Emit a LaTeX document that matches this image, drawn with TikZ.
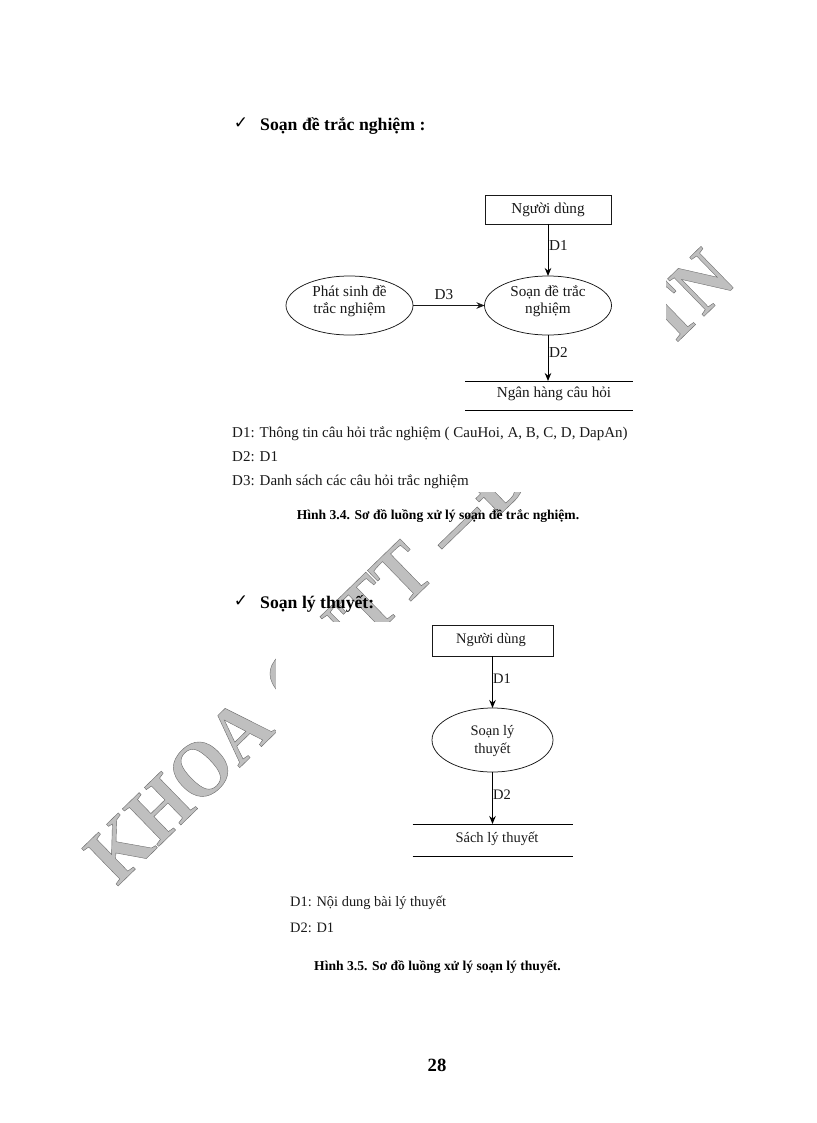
\documentclass[tikz,border=0pt]{standalone}
\usepackage{fontspec}
\setmainfont{Liberation Serif}
\newfontfamily\symfont{DejaVu Sans}
\usetikzlibrary{arrows.meta,shapes.geometric}
\definecolor{wmfill}{gray}{0.75}
\definecolor{ink}{gray}{0.1}
\newcommand{\wmtext}[2]{\scalebox{#1}[1.05]{\color{wmfill}\special{pdf:code 2 Tr 0.4 w 0.42 G}#2\special{pdf:code 0 Tr 0 G}}}
\tikzset{
 shapeline/.style={draw=ink,line width=0.75pt,outer sep=0pt,inner sep=0pt},
 boxn/.style={shapeline,rectangle},
 elln/.style={shapeline,ellipse},
 storen/.style={rectangle,inner sep=0pt,outer sep=0pt},
 flow/.style={draw=black,line width=1pt,-{Stealth[length=8pt,width=6.5pt]}},
 thinflow/.style={draw=ink,line width=0.75pt,-{Stealth[length=8pt,width=6.5pt]}},
 storeline/.style={draw=black,line width=0.9pt},
 dtext/.style={font=\fontsize{15.2}{16}\selectfont,text=ink,inner sep=0pt,align=center},
 dtextb/.style={font=\fontsize{14.5}{16}\selectfont,text=ink,inner sep=0pt,align=center},
 listtext/.style={font=\fontsize{15}{16}\selectfont,text=ink,inner sep=0pt,anchor=base west},
 listtextb/.style={font=\fontsize{14.4}{16}\selectfont,text=ink,inner sep=0pt,anchor=base west},
 head/.style={font=\fontsize{17.7}{22}\selectfont\bfseries,inner sep=0pt,anchor=base west},
 capt/.style={font=\fontsize{13.6}{14}\selectfont\bfseries,inner sep=0pt,anchor=base},
 tick/.style={font=\fontsize{17}{18}\selectfont\symfont,inner sep=0pt},
 mask/.style={fill=white,draw=none},
 wm/.style={inner sep=0pt,anchor=base west,rotate=44.2,font=\fontsize{76}{80}\selectfont\bfseries},
}
\begin{document}
\begin{tikzpicture}[x=1pt,y=-1pt]
\useasboundingbox (0,0) rectangle (816,1123);
\fill[white] (0,0) rectangle (816,1123);
% watermark
\node[wm] (wm1) at (117,887) {\wmtext{.96}{KHOA}};
\node[wm] (wm2) at (294.8,714.1) {\wmtext{.94}{CNTT}};
\node[wm] (wm3) at (453.3,560.1) {\wmtext{1.4}{–}};
\node[wm] (wm4) at (494.1,520.4) {\wmtext{1}{Đ}};
\node[wm] (wm5) at (670.5,348.9) {\wmtext{.89}{TN}};
\fill[mask] (220,150) rectangle (666,492);
\fill[mask] (276,622) rectangle (700,900);
% first heading
\node[tick] (t1) at (241,123) {✓};
\node[head] (h1) at (260,130.5) {Soạn đề trắc nghiệm :};
% first diagram
\node[boxn,minimum width=126pt,minimum height=29pt] (user1) at (548,209.5) {};
\node[dtext] (user1t) at (548,209.5) {Người dùng};
\node[elln,minimum width=127pt,minimum height=59pt] (soan1) at (548,305.5) {};
\node[dtext] (soan1t) at (548,301.5) {Soạn đề trắc\\[1pt]nghiệm};
\node[elln,minimum width=127pt,minimum height=59pt] (gen) at (349.5,305.5) {};
\node[dtext] (gent) at (349.5,301.5) {Phát sinh đề\\[1pt]trắc nghiệm};
\node[storen,minimum width=168pt,minimum height=29pt] (bank) at (549,395.5) {};
\node[dtext] (bankt) at (554,393.5) {Ngân hàng câu hỏi};
\draw[flow] (user1) -- (soan1);
\draw[flow] (soan1) -- (soan1.south |- bank.north);
\draw[thinflow] (gen) -- (soan1);
\draw[storeline] (bank.north west) -- (bank.north east);
\draw[storeline] (bank.south west) -- (bank.south east);
\node[dtext,anchor=west] (d1a) at (549,245.5) {D1};
\node[dtext,anchor=west] (d2a) at (549,352.5) {D2};
\node[dtext] (d3a) at (444,294.5) {D3};
% first list
\node[listtext] (l1) at (232,437) {D1: Thông tin câu hỏi trắc nghiệm ( CauHoi, A, B, C, D, DapAn)};
\node[listtext] (l2) at (232,461) {D2: D1};
\node[listtext] (l3) at (232,485) {D3: Danh sách các câu hỏi trắc nghiệm};
\node[capt] (c1) at (438,519) {Hình 3.4. Sơ đồ luồng xử lý soạn đề trắc nghiệm.};
% second heading
\node[tick] (t2) at (241,601) {✓};
\node[head] (h2) at (260,608) {Soạn lý thuyết:};
% second diagram
\node[boxn,minimum width=121pt,minimum height=31pt] (user2) at (492.5,640.5) {};
\node[dtextb] (user2t) at (491,640) {Người dùng};
\node[elln,minimum width=121pt,minimum height=64pt] (soan2) at (492.5,740) {};
\node[dtextb] (soan2t) at (492.5,741) {Soạn lý\\[2pt]thuyết};
\node[storen,minimum width=160pt,minimum height=32pt] (book) at (492.5,840) {};
\node[dtextb] (bookt) at (497,839) {Sách lý thuyết};
\draw[flow] (user2) -- (soan2);
\draw[flow] (soan2) -- (soan2.south |- book.north);
\draw[storeline] (book.north west) -- (book.north east);
\draw[storeline] (book.south west) -- (book.south east);
\node[dtextb,anchor=west] (d1b) at (493,679) {D1};
\node[dtextb,anchor=west] (d2b) at (493,794.5) {D2};
% second list
\node[listtextb] (l4) at (290,906) {D1: Nội dung bài lý thuyết};
\node[listtextb] (l5) at (290,932) {D2: D1};
\node[capt] (c2) at (437.5,970) {Hình 3.5. Sơ đồ luồng xử lý soạn lý thuyết.};
\node[font=\fontsize{18.7}{22}\selectfont\bfseries,inner sep=0pt,anchor=base] (pg) at (437,1071) {28};
\end{tikzpicture}
\end{document}
